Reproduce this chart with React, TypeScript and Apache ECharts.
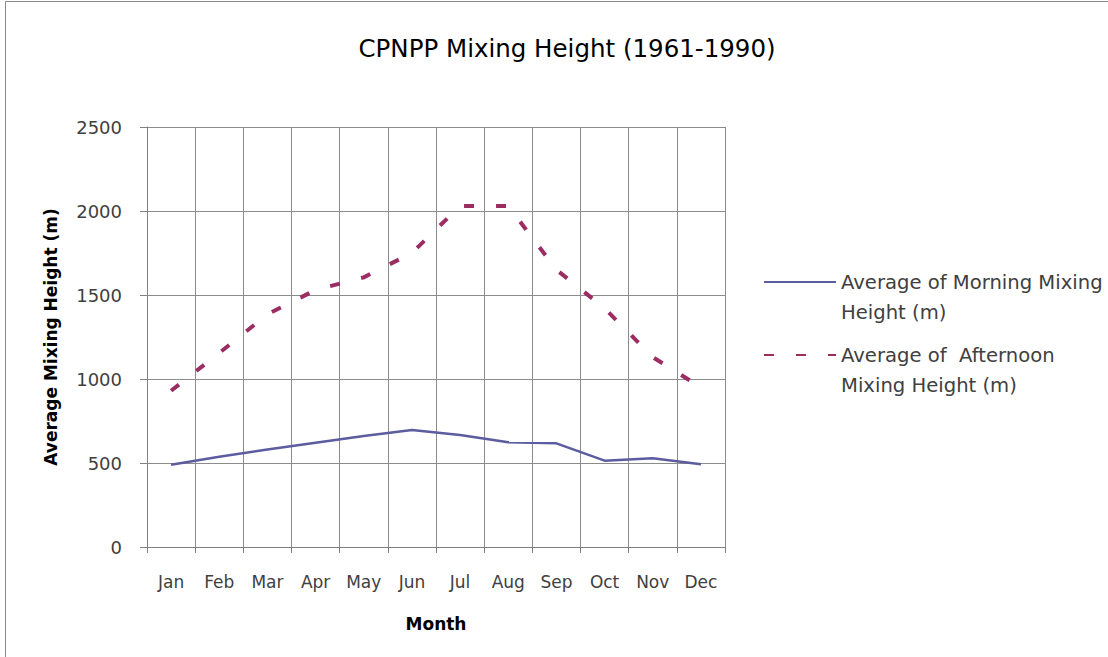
import React, { useEffect, useRef } from "react";
import * as echarts from "echarts";

const months = ["Jan", "Feb", "Mar", "Apr", "May", "Jun", "Jul", "Aug", "Sep", "Oct", "Nov", "Dec"];
const morning = [490, 537, 581, 621, 661, 696, 667, 623, 617, 514, 528, 492];
const afternoon = [930, 1155, 1385, 1530, 1605, 1750, 2030, 2030, 1650, 1421, 1130, 950];
const morningName = "Average of Morning Mixing Height (m)";
const afternoonName = "Average of  Afternoon Mixing Height (m)";
const yTicks = { min: 0, max: 2500, interval: 500 };

const FONT = "DejaVu Sans";

export default function App() {
  const ref = useRef<HTMLDivElement>(null);
  useEffect(() => {
    document.body.style.margin = "0";
    const chart = echarts.init(ref.current!, null, { renderer: "svg" });
    const legendText = {
      fontFamily: FONT,
      fontSize: 19.6,
      color: "#404040",
      lineHeight: 30,
    };
    chart.setOption({
      animation: false,
      backgroundColor: "#ffffff",
      title: {
        text: "CPNPP Mixing Height (1961-1990)",
        left: 562,
        top: 31,
        textAlign: "center",
        textStyle: { fontFamily: FONT, fontSize: 24.5, fontWeight: "normal", color: "#000" },
      },
      graphic: [
        {
          type: "rect",
          shape: { x: 5.5, y: 1.5, width: 1200, height: 700 },
          style: { fill: "none", stroke: "#888888", lineWidth: 1 },
          silent: true,
        },
      ],
      legend: [
        {
          data: [morningName],
          orient: "vertical",
          left: 758,
          top: 232,
          itemWidth: 72,
          itemHeight: 14,
          itemGap: 0,
          itemStyle: { opacity: 0 },
          formatter: () => " \nAverage of Morning Mixing\nHeight (m)",
          textStyle: legendText,
        },
        {
          data: [afternoonName],
          orient: "vertical",
          left: 758,
          top: 305,
          itemWidth: 72,
          itemHeight: 14,
          itemGap: 0,
          itemStyle: { opacity: 0 },
          formatter: () => " \nAverage of  Afternoon\nMixing Height (m)",
          textStyle: legendText,
        },
      ],
      grid: { left: 147, right: 383, top: 127, bottom: 110, containLabel: false },
      xAxis: {
        type: "category",
        data: months,
        boundaryGap: true,
        name: "Month",
        nameLocation: "middle",
        nameGap: 68,
        nameTextStyle: { fontFamily: FONT, fontSize: 17, fontWeight: "bold", color: "#000" },
        axisLine: { show: true, lineStyle: { color: "#808080", width: 1 } },
        axisTick: { show: true, alignWithLabel: false, length: 6, lineStyle: { color: "#808080" } },
        axisLabel: { fontFamily: FONT, fontSize: 17, color: "#404040", margin: 26, interval: 0 },
        splitLine: { show: true, lineStyle: { color: "#8c8c8c", width: 1 } },
      },
      yAxis: {
        type: "value",
        min: yTicks.min,
        max: yTicks.max,
        interval: yTicks.interval,
        name: "Average Mixing Height (m)",
        nameLocation: "middle",
        nameGap: 88,
        nameTextStyle: { fontFamily: FONT, fontSize: 17, fontWeight: "bold", color: "#000" },
        axisLine: { show: true, lineStyle: { color: "#808080", width: 1 } },
        axisTick: { show: true, length: 7, lineStyle: { color: "#808080" } },
        axisLabel: {
          fontFamily: FONT,
          fontSize: 18,
          color: "#404040",
          margin: 25,
          formatter: (v: number) => String(v),
        },
        splitLine: { show: true, lineStyle: { color: "#8c8c8c", width: 1 } },
      },
      series: [
        {
          name: morningName,
          type: "line",
          data: morning,
          symbol: "none",
          lineStyle: { color: "#5c5ca0", width: 2.5 },
          itemStyle: { color: "#5c5ca0" },
        },
        {
          name: afternoonName,
          type: "line",
          data: afternoon,
          symbol: "none",
          lineStyle: { color: "#9b2d62", width: 4, type: [10, 22] },
          itemStyle: { color: "#9b2d62" },
        },
      ],
    });
    return () => chart.dispose();
  }, []);
  return <div ref={ref} style={{ position: "fixed", left: 0, top: 0, width: 1108, height: 657 }} />;
}
